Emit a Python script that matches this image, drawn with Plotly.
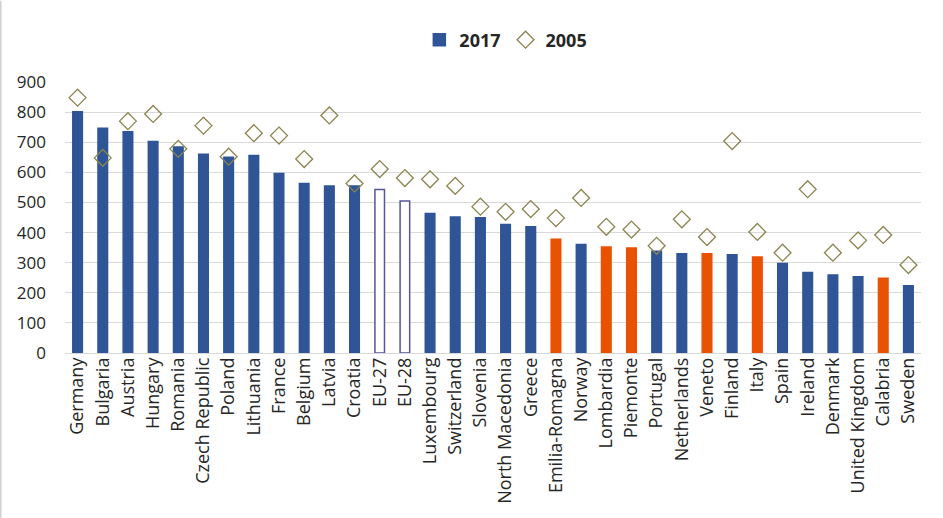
import plotly.graph_objects as go

# regions, sorted by the 2017 value
regions = ["Germany", "Bulgaria", "Austria", "Hungary", "Romania", "Czech Republic",
           "Poland", "Lithuania", "France", "Belgium", "Latvia", "Croatia", "EU-27",
           "EU-28", "Luxembourg", "Switzerland", "Slovenia", "North Macedonia", "Greece",
           "Emilia-Romagna", "Norway", "Lombardia", "Piemonte", "Portugal", "Netherlands",
           "Veneto", "Finland", "Italy", "Spain", "Ireland", "Denmark", "United Kingdom",
           "Calabria", "Sweden"]

val_2017 = [801, 746, 735, 702, 684, 660, 650, 656, 596, 563, 555, 555, 543,
            505, 463, 452, 449, 427, 419, 378, 360, 352, 349, 338, 330,
            330, 326, 319, 297, 267, 259, 253, 248, 223]

val_2005 = [848, 648, 770, 794, 678, 755, 652, 730, 722, 644, 789, 563, 611,
            581, 577, 555, 486, 469, 478, 448, 515, 419, 410, 356, 444,
            385, 704, 402, 333, 544, 333, 374, 392, 292]

italian = ["Emilia-Romagna", "Lombardia", "Piemonte", "Veneto", "Italy", "Calabria"]
eu_avg = ["EU-27", "EU-28"]

BLUE = "#2F5597"
ORANGE = "#EA5203"
EU_LINE = "#56569A"
OLIVE = "#8A8450"

fill = []
line = []
for r in regions:
    if r in italian:
        fill.append(ORANGE)
        line.append(ORANGE)
    elif r in eu_avg:
        fill.append("white")
        line.append(EU_LINE)
    else:
        fill.append(BLUE)
        line.append(BLUE)

fig = go.Figure()

fig.add_trace(go.Bar(
    x=regions, y=val_2017, name="<b>2017</b>",
    marker=dict(color=fill, line=dict(color=line, width=1.5)),
))

fig.add_trace(go.Scatter(
    x=regions, y=val_2005, name="<b>2005</b>", mode="markers",
    marker=dict(symbol="diamond-open", size=13, color=OLIVE, line=dict(width=1.3)),
))

fig.update_layout(
    width=943, height=518,
    margin=dict(l=65, r=22, t=82, b=165, autoexpand=False),
    plot_bgcolor="white", paper_bgcolor="white",
    font=dict(family="Open Sans", size=17, color="#262626"),
    bargap=0.62,
    legend=dict(orientation="h", x=0.515, xanchor="center", y=1.155, yanchor="middle",
                font=dict(size=18, color="#262626"), itemwidth=30),
    showlegend=True,
)

fig.update_xaxes(range=[-0.5, len(regions) - 0.5], tickangle=-90, showgrid=False,
                 showline=False, ticks="", tickfont=dict(size=18), automargin=False)
fig.update_yaxes(range=[0, 900], dtick=100, showgrid=True, gridcolor="#D9D9D9",
                 gridwidth=1.2, zeroline=True, zerolinecolor="#D9D9D9",
                 zerolinewidth=1.2, ticklabelstandoff=18, tickfont=dict(size=17),
                 automargin=False)

# thin frame on the left edge of the chart
fig.add_shape(type="line", xref="paper", yref="paper", x0=-0.075, x1=-0.075,
              y0=-0.61, y1=1.3, line=dict(color="#D0D0D0", width=1.5))

# drop the default page margin so the figure sits at the window corner
fig.write_html("out.html", config={"displayModeBar": False},
               post_script="document.body.style.margin='0';")
